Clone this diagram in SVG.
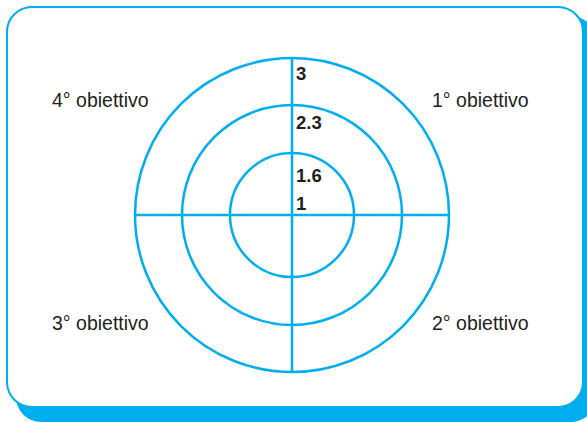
<svg xmlns="http://www.w3.org/2000/svg" width="587" height="422" viewBox="0 0 587 422">
<style>
.ln{fill:none;stroke:#00aeef;stroke-width:2.5}
.lbl{font-family:"Liberation Sans",Arial,sans-serif;font-size:19.5px;fill:#231f20}
.num{font-family:"Liberation Sans",Arial,sans-serif;font-size:18.5px;font-weight:bold;fill:#231f20}
</style>
<rect x="0" y="0" width="587" height="422" fill="#ffffff"/>
<rect x="16" y="16" width="580" height="406" rx="25" fill="#00aeef"/>
<rect x="7" y="7" width="576" height="400" rx="25" fill="#ffffff" stroke="#00aeef" stroke-width="2"/>
<g id="target">
<circle class="ln" cx="292" cy="215" r="157"/>
<circle class="ln" cx="292" cy="215" r="110"/>
<circle class="ln" cx="292" cy="215" r="62"/>
<line class="ln" x1="292" y1="58" x2="292" y2="372"/>
<line class="ln" x1="135" y1="215" x2="449" y2="215"/>
</g>
<g id="values">
<text class="num" x="296" y="80">3</text>
<text class="num" x="296" y="129">2.3</text>
<text class="num" x="296" y="182">1.6</text>
<text class="num" x="296" y="210">1</text>
</g>
<g id="labels">
<text class="lbl" x="52" y="107">4° obiettivo</text>
<text class="lbl" x="432" y="107">1° obiettivo</text>
<text class="lbl" x="52" y="330">3° obiettivo</text>
<text class="lbl" x="432" y="330">2° obiettivo</text>
</g>
</svg>
